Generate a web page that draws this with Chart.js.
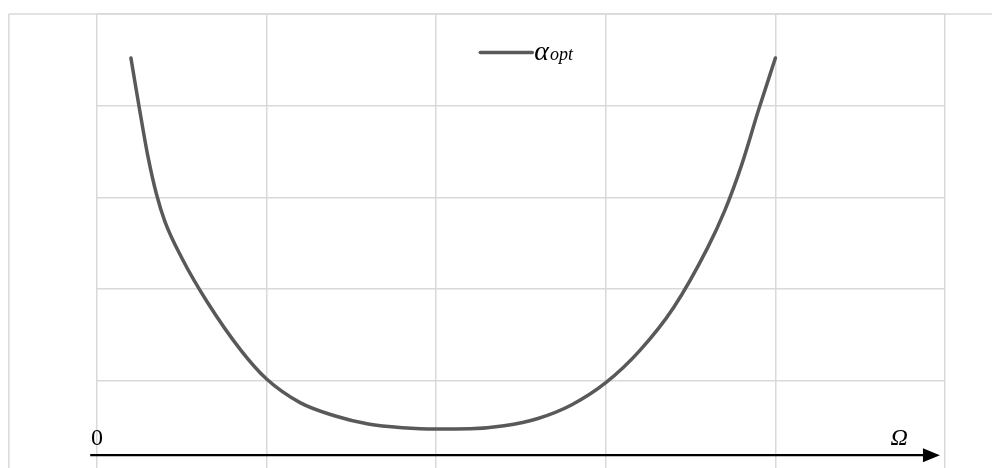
<!DOCTYPE html>
<html lang="en">
<head>
<meta charset="UTF-8">
<title>alpha opt</title>
<style>
  body { margin: 0; padding: 0; background: #fff; }
  .wrap { width: 992px; height: 468px; position: relative; }
</style>
</head>
<body>
<div class="wrap"><canvas id="grafico"></canvas></div>
<script src="https://cdn.jsdelivr.net/npm/chart.js"></script>
<script>
  // curve alpha_opt(Omega)
  const omega = [0.2, 0.25, 0.3, 0.35, 0.4, 0.5, 0.65, 0.85, 1.0, 1.2, 1.4, 1.6, 1.8, 2.0,
                 2.2, 2.4, 2.6, 2.8, 3.0, 3.2, 3.4, 3.6, 3.7, 3.8, 3.9, 4.0];
  const alphaOpt = [4.52, 3.97, 3.45, 3.04, 2.74, 2.34, 1.86, 1.33, 1.02, 0.76, 0.62, 0.53, 0.49, 0.475,
                    0.478, 0.51, 0.59, 0.74, 0.98, 1.33, 1.8, 2.45, 2.85, 3.35, 3.95, 4.52];
  const xTicks = [0, 1, 2, 3, 4, 5];
  const yTicks = [1, 2, 3, 4, 5];
  const seriesName = 'α';
  const seriesSub = 'opt';
  const axisOrigin = '0';
  const axisName = 'Ω';

  const grid = '#d9d9d9';
  const curve = '#595959';

  const extras = {
    id: 'extras',
    beforeDatasetsDraw(chart) {
      const ctx = chart.ctx, x = chart.scales.x, y = chart.scales.y;
      const top = y.getPixelForValue(5);
      const left = x.getPixelForValue(-0.52);
      ctx.save();
      ctx.strokeStyle = grid;
      ctx.lineWidth = 1.5;
      ctx.beginPath();
      ctx.moveTo(left, top); ctx.lineTo(chart.width, top);
      ctx.moveTo(left, top); ctx.lineTo(left, chart.height);
      ctx.stroke();
      ctx.restore();
    },
    afterDatasetsDraw(chart) {
      const ctx = chart.ctx, x = chart.scales.x, y = chart.scales.y;
      ctx.save();
      // horizontal axis arrow
      const ay = y.getPixelForValue(0.19);
      const x0 = x.getPixelForValue(-0.04);
      const x1 = x.getPixelForValue(4.97);
      ctx.strokeStyle = '#000';
      ctx.fillStyle = '#000';
      ctx.lineWidth = 2.2;
      ctx.beginPath();
      ctx.moveTo(x0, ay); ctx.lineTo(x1 - 14, ay);
      ctx.stroke();
      ctx.beginPath();
      ctx.moveTo(x1, ay); ctx.lineTo(x1 - 17, ay - 7); ctx.lineTo(x1 - 17, ay + 7); ctx.closePath();
      ctx.fill();
      // axis labels
      ctx.textBaseline = 'alphabetic';
      ctx.textAlign = 'center';
      ctx.font = '24px "Liberation Serif", serif';
      ctx.fillText(axisOrigin, x.getPixelForValue(0), ay - 10);
      ctx.font = 'italic 24px "Liberation Serif", serif';
      ctx.fillText(axisName, x.getPixelForValue(4.73), ay - 10);
      // legend
      const ly = y.getPixelForValue(4.58);
      const lx = x.getPixelForValue(2.26);
      ctx.strokeStyle = curve;
      ctx.lineWidth = 3.5;
      ctx.lineCap = 'round';
      ctx.beginPath();
      ctx.moveTo(lx, ly); ctx.lineTo(lx + 52, ly);
      ctx.stroke();
      ctx.fillStyle = '#000';
      ctx.textAlign = 'left';
      ctx.font = 'italic 28px "Liberation Serif", serif';
      ctx.fillText(seriesName, lx + 54, ly + 7);
      const w = ctx.measureText(seriesName).width;
      ctx.font = 'italic 18px "Liberation Serif", serif';
      ctx.fillText(seriesSub, lx + 55 + w, ly + 7);
      ctx.restore();
    }
  };

  new Chart(document.getElementById('grafico'), {
    type: 'scatter',
    data: {
      datasets: [{
        label: 'αopt',
        data: omega.map((o, i) => ({ x: o, y: alphaOpt[i] })),
        showLine: true,
        borderColor: curve,
        borderWidth: 3.5,
        pointRadius: 0,
        cubicInterpolationMode: 'monotone',
        borderCapStyle: 'round'
      }]
    },
    options: {
      responsive: true,
      maintainAspectRatio: false,
      animation: false,
      layout: { padding: { left: 97, right: 47, top: 14, bottom: 0 } },
      plugins: { legend: { display: false }, tooltip: { enabled: false } },
      scales: {
        x: {
          type: 'linear', min: 0, max: 5,
          afterBuildTicks: s => { s.ticks = xTicks.map(v => ({ value: v })); },
          ticks: { display: false },
          grid: { color: grid, lineWidth: 1.5, drawTicks: false },
          border: { display: false }
        },
        y: {
          type: 'linear', min: 0.05, max: 5,
          afterBuildTicks: s => { s.ticks = yTicks.map(v => ({ value: v })); },
          ticks: { display: false },
          grid: { color: grid, lineWidth: 1.5, drawTicks: false },
          border: { display: false }
        }
      }
    },
    plugins: [extras]
  });
</script>
</body>
</html>
